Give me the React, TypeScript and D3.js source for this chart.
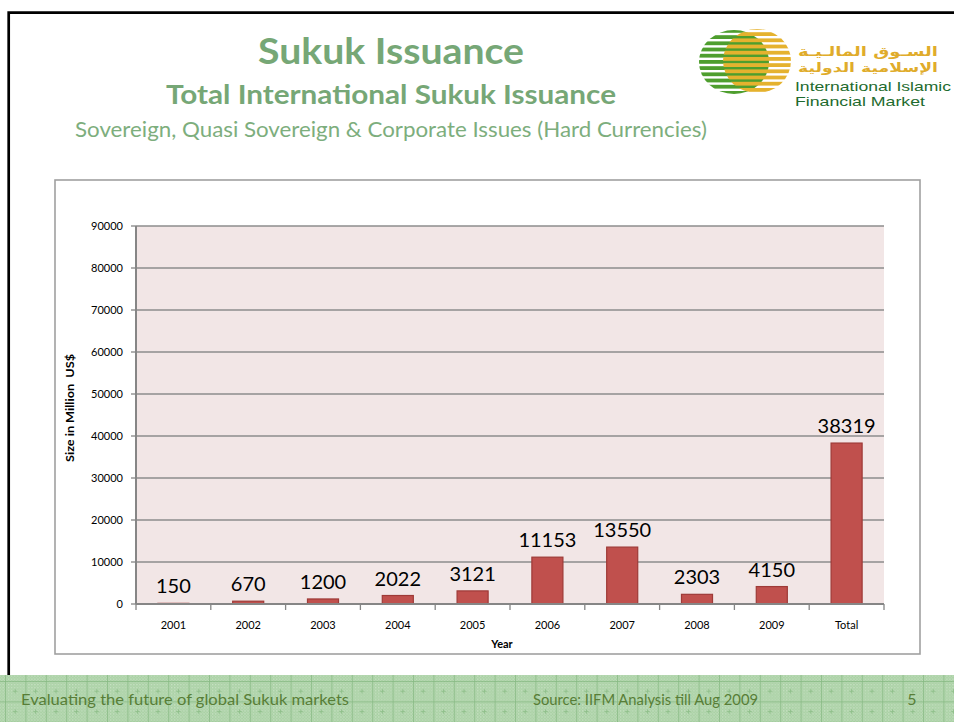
import React from "react";
import * as d3 from "d3";

const categories = ["2001", "2002", "2003", "2004", "2005", "2006", "2007", "2008", "2009", "Total"];
const values = [150, 670, 1200, 2022, 3121, 11153, 13550, 2303, 4150, 38319];
const yTickValues = [0, 10000, 20000, 30000, 40000, 50000, 60000, 70000, 80000, 90000];

const title = "Sukuk Issuance";
const subtitle = "Total International Sukuk Issuance";
const subtitle2 = "Sovereign, Quasi Sovereign & Corporate Issues (Hard Currencies)";
const yAxisTitle = "Size in Million  US$";
const xAxisTitle = "Year";
const footerLeft = "Evaluating the future of global Sukuk markets";
const footerMid = "Source: IIFM Analysis till Aug 2009";
const pageNum = "5";
const logoArabic1 = "السـوق المالـيـة";
const logoArabic2 = "الإسلامية الدولية";
const logoEn1 = "International Islamic";
const logoEn2 = "Financial Market";

const W = 954;
const H = 722;
const plot = { left: 136, right: 884, top: 226, bottom: 604 };

export default function App() {
  const x = d3
    .scaleBand<string>()
    .domain(categories)
    .range([plot.left, plot.right])
    .paddingInner(0.585)
    .paddingOuter(0.2925);
  const y = d3.scaleLinear().domain([0, 90000]).range([plot.bottom, plot.top]);
  const step = x.step();

  const font = "Lato, 'Open Sans', sans-serif";
  const green = "#76A776";

  const stripeRows = d3.range(0, 12);
  const greenC = { cx: 734, cy: 62, rx: 35, ry: 32 };
  const goldC = { cx: 757, cy: 61, rx: 34, ry: 32 };

  return (
    <div style={{ position: "absolute", left: 0, top: 0, width: W, height: H }}>
      <svg width={W} height={H} style={{ display: "block" }} fontFamily={font}>
        <defs>
          <clipPath id="greenClip">
            <ellipse cx={greenC.cx} cy={greenC.cy} rx={greenC.rx} ry={greenC.ry} />
          </clipPath>
          <clipPath id="goldClip">
            <ellipse cx={goldC.cx} cy={goldC.cy} rx={goldC.rx} ry={goldC.ry} />
          </clipPath>
          <pattern id="dots" width="3" height="3" patternUnits="userSpaceOnUse">
            <rect width="3" height="3" fill="#A9D0A4" />
            <rect x="0" y="0" width="1.2" height="1.2" fill="#CDE5C9" />
            <rect x="1.5" y="1.5" width="1.2" height="1.2" fill="#BEDDB9" />
          </pattern>
          <pattern id="footerPat" width="20.4" height="20.4" patternUnits="userSpaceOnUse" x="5" y="681">
            <rect width="20.4" height="20.4" fill="url(#dots)" />
            <path d="M0 0 H20.4 M0 0 V20.4" stroke="#84B880" strokeWidth="1.4" />
            <path d="M10.2 8 V12.4 M8 10.2 H12.4" stroke="#90C08B" strokeWidth="1" />
          </pattern>
        </defs>

        <rect x={0} y={0} width={W} height={H} fill="#fff" />

        {/* slide frame */}
        <path d={`M8.7 680 V12.7 H${W}`} fill="none" stroke="#000" strokeWidth={2.7} />

        {/* titles */}
        <text x={391} y={64} textAnchor="middle" fontSize={36} fontWeight={700} fill={green}
          textLength={266} lengthAdjust="spacingAndGlyphs">{title}</text>
        <text x={391} y={104} textAnchor="middle" fontSize={26} fontWeight={700} fill={green}
          textLength={450} lengthAdjust="spacingAndGlyphs">{subtitle}</text>
        <text x={391} y={137} textAnchor="middle" fontSize={21} fill="#7DAE7D"
          textLength={632} lengthAdjust="spacingAndGlyphs">{subtitle2}</text>

        {/* logo */}
        <g clipPath="url(#greenClip)">
          {stripeRows.map((i) => (
            <rect key={"g" + i} x={690} y={29 + i * 6.2} width={90} height={3.8} fill="#4E9E2E" />
          ))}
        </g>
        <g clipPath="url(#goldClip)">
          {stripeRows.map((i) => (
            <rect key={"o" + i} x={715} y={26 + i * 6.2} width={90} height={3.8} fill="#E5B22E" />
          ))}
        </g>
        <text x={938} y={56} textAnchor="end" fontSize={13} fill="#E0AC2B" fontFamily="'DejaVu Sans', sans-serif"
          fontWeight={700} textLength={140} lengthAdjust="spacingAndGlyphs">{logoArabic1}</text>
        <text x={938} y={72} textAnchor="end" fontSize={12.5} fill="#E0AC2B" fontFamily="'DejaVu Sans', sans-serif"
          fontWeight={700} textLength={140} lengthAdjust="spacingAndGlyphs">{logoArabic2}</text>
        <text x={795} y={91} fontSize={13} fill="#1E6B2E" fontFamily="'Liberation Sans', Arial, sans-serif"
          textLength={156} lengthAdjust="spacingAndGlyphs">{logoEn1}</text>
        <text x={795} y={106} fontSize={13} fill="#1E6B2E" fontFamily="'Liberation Sans', Arial, sans-serif"
          textLength={130} lengthAdjust="spacingAndGlyphs">{logoEn2}</text>

        {/* chart box */}
        <rect x={55} y={180} width={865} height={474} fill="#fff" stroke="#A0A0A0" strokeWidth={1.6} />

        {/* plot area */}
        <rect x={plot.left} y={plot.top} width={plot.right - plot.left} height={plot.bottom - plot.top} fill="#F2E6E6" />

        {/* gridlines */}
        {yTickValues.filter((t) => t > 0).map((t) => (
          <line key={"gl" + t} x1={plot.left} x2={plot.right} y1={y(t)} y2={y(t)} stroke="#8C8C8C" strokeWidth={1.3} />
        ))}

        {/* bars */}
        {categories.map((c, i) => (
          <rect key={"b" + c} x={x(c)} y={y(values[i])} width={x.bandwidth()} height={y(0) - y(values[i])}
            fill="#C0504D" stroke="#9E3A37" strokeWidth={1.2} />
        ))}

        {/* data labels */}
        {categories.map((c, i) => (
          <text key={"dl" + c} x={(x(c) as number) + x.bandwidth() / 2} y={y(values[i]) - 10}
            textAnchor="middle" fontSize={20} fill="#000">{values[i]}</text>
        ))}

        {/* y axis */}
        <line x1={plot.left} x2={plot.left} y1={plot.top} y2={plot.bottom} stroke="#868686" strokeWidth={2} />
        {yTickValues.map((t) => (
          <g key={"yt" + t}>
            <line x1={plot.left - 5} x2={plot.left} y1={y(t)} y2={y(t)} stroke="#868686" strokeWidth={1.3} />
            <text x={123} y={y(t) + 4} textAnchor="end" fontSize={11} fill="#000">{t}</text>
          </g>
        ))}

        {/* x axis */}
        <line x1={plot.left} x2={plot.right} y1={plot.bottom} y2={plot.bottom} stroke="#868686" strokeWidth={2} />
        {d3.range(categories.length + 1).map((i) => (
          <line key={"xt" + i} x1={plot.left + i * step} x2={plot.left + i * step} y1={plot.bottom} y2={plot.bottom + 6}
            stroke="#868686" strokeWidth={1.3} />
        ))}
        {categories.map((c) => (
          <text key={"xl" + c} x={(x(c) as number) + x.bandwidth() / 2} y={629} textAnchor="middle" fontSize={11} fill="#000">{c}</text>
        ))}

        <text x={502} y={648} textAnchor="middle" fontSize={11} fontWeight={700} fill="#000">{xAxisTitle}</text>
        <text transform="translate(74,408) rotate(-90)" textAnchor="middle" fontSize={11} fontWeight={700} fill="#000"
          style={{ whiteSpace: "pre" }} textLength={108} lengthAdjust="spacingAndGlyphs">{yAxisTitle}</text>

        {/* footer */}
        <rect x={0} y={675} width={W} height={H - 675} fill="url(#footerPat)" />
        <text x={21} y={705} fontSize={16} fill="#587E37" textLength={328} lengthAdjust="spacingAndGlyphs">{footerLeft}</text>
        <text x={533} y={705} fontSize={16} fill="#587E37" textLength={225} lengthAdjust="spacingAndGlyphs">{footerMid}</text>
        <text x={912} y={705} textAnchor="middle" fontSize={16} fill="#587E37">{pageNum}</text>
      </svg>
    </div>
  );
}
